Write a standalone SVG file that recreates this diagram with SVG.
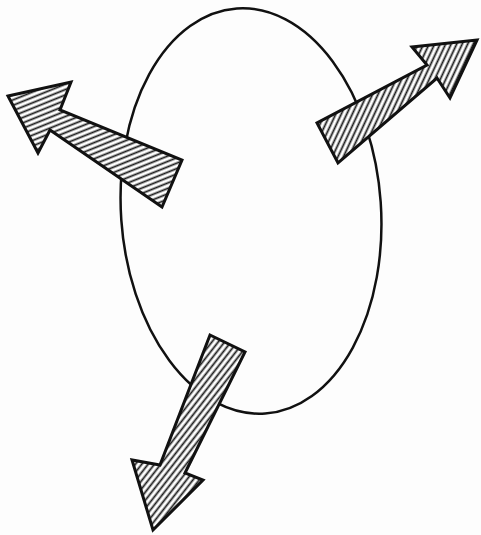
<svg xmlns="http://www.w3.org/2000/svg" width="481" height="535" viewBox="0 0 481 535">
<style>
.outline{stroke:#111;stroke-width:3;stroke-linejoin:miter}
.hl{stroke:#1a1a1a;stroke-width:1.8}
</style>
<defs>
<pattern id="hLeft" width="10" height="5" patternUnits="userSpaceOnUse" patternTransform="rotate(-22)">
<rect width="10" height="5" fill="#fff"/><line class="hl" x1="0" y1="2.5" x2="10" y2="2.5"/>
</pattern>
<pattern id="hRight" width="10" height="5" patternUnits="userSpaceOnUse" patternTransform="rotate(-65)">
<rect width="10" height="5" fill="#fff"/><line class="hl" x1="0" y1="2.5" x2="10" y2="2.5"/>
</pattern>
<pattern id="hDown" width="10" height="5" patternUnits="userSpaceOnUse" patternTransform="rotate(-52)">
<rect width="10" height="5" fill="#fff"/><line class="hl" x1="0" y1="2.5" x2="10" y2="2.5"/>
</pattern>
</defs>
<rect width="481" height="535" fill="#fdfdfd"/>
<g id="egg">
<ellipse cx="251" cy="211" rx="130" ry="203" transform="rotate(-4 251 211)" fill="none" stroke="#111" stroke-width="2.5"/>
</g>
<g id="arrows">
<g id="arrow-left"><polygon class="outline" fill="url(#hLeft)" points="8,96 71,82 60,110 182,160 162,207 50,130 38,153"/></g>
<g id="arrow-right"><polygon class="outline" fill="url(#hRight)" points="477,40 450,98 437,78 338,163 317,123 427,65 412,47"/></g>
<g id="arrow-down"><polygon class="outline" fill="url(#hDown)" points="210,335 245,352 185,473 203,480 153,530 132,460 160,465"/></g>
</g>
</svg>
